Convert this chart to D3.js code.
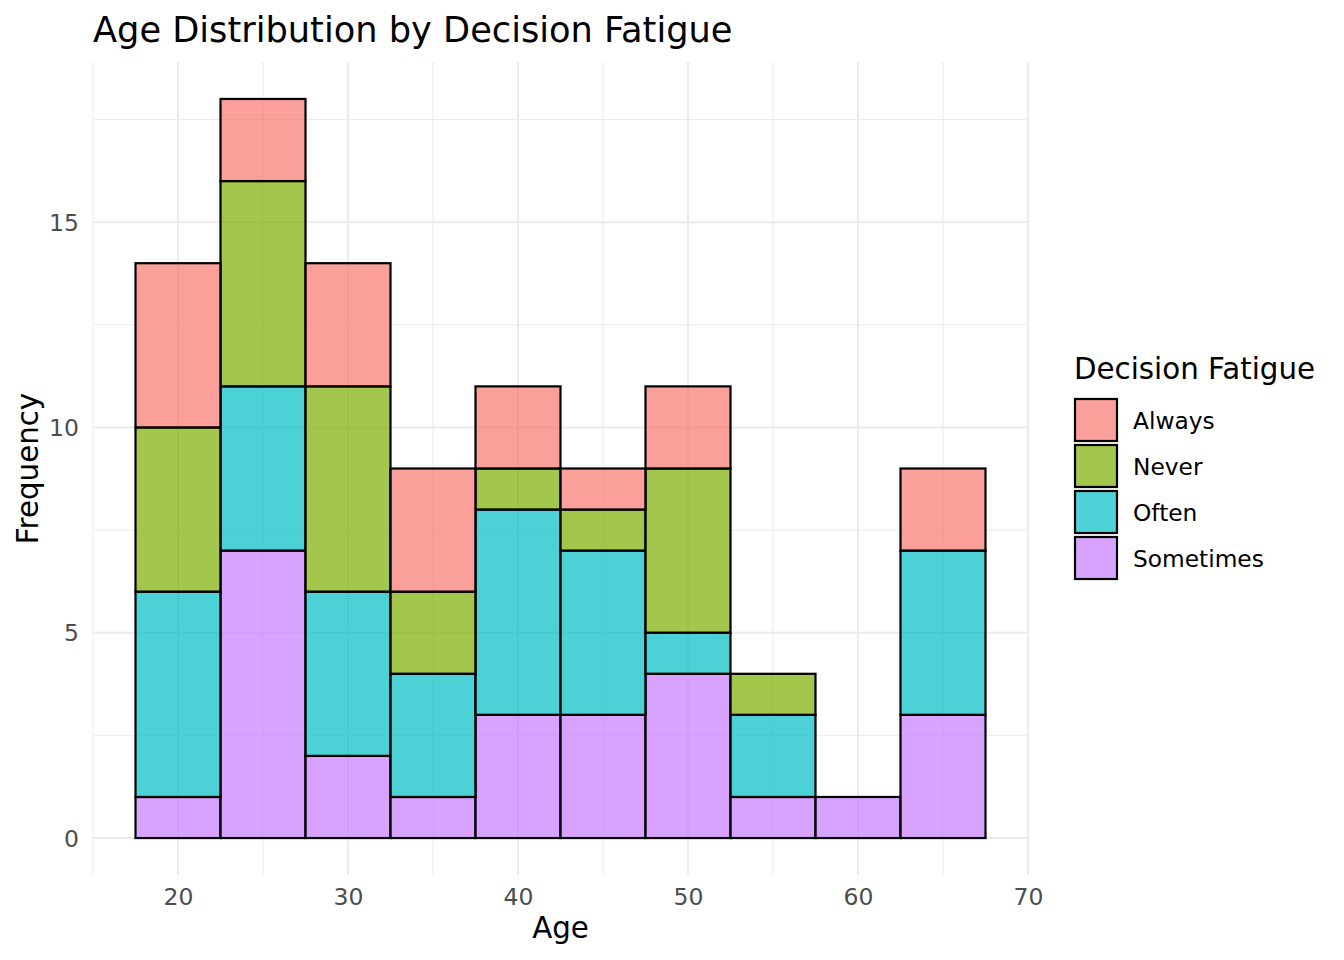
<!DOCTYPE html>
<html>
<head>
<meta charset="utf-8">
<script src="https://cdn.jsdelivr.net/npm/d3@7"></script>
<style>
  body { margin: 0; background: #fff; }
  svg { font-family: "DejaVu Sans", sans-serif; }
</style>
</head>
<body>
<svg id="chart" width="1344" height="960"></svg>
<script>
// bin centres (width 5) and counts per fatigue level
let ageBins = [20, 25, 30, 35, 40, 45, 50, 55, 60, 65]
let always = [4, 2, 3, 3, 2, 1, 2, 0, 0, 2]
let never = [4, 5, 5, 2, 1, 1, 4, 1, 0, 0]
let often = [5, 4, 4, 3, 5, 4, 1, 2, 0, 4]
let sometimes = [1, 7, 2, 1, 3, 3, 4, 1, 1, 3]

let levels = ['Always', 'Never', 'Often', 'Sometimes']
let colors = ['#F8766D', '#7CAE00', '#00BFC4', '#C77CFF']
let xTicks = [20, 30, 40, 50, 60, 70]
let yTicks = [0, 5, 10, 15]
let binWidth = 5

let rows = ageBins.map((a, i) => ({
    age: a,
    Always: always[i],
    Never: never[i],
    Often: often[i],
    Sometimes: sometimes[i]
}))

let svg = d3.select('#chart')

let panel = { left: 93, right: 1028, top: 62, bottom: 875 }

let x = d3.scaleLinear().domain([15, 70]).range([panel.left, panel.right])
let y = d3.scaleLinear().domain([-0.9, 18.9]).range([panel.bottom, panel.top])
let color = d3.scaleOrdinal().domain(levels).range(colors)

// grid: minor first, then major
let xMinor = [15, 25, 35, 45, 55, 65]
let yMinor = [2.5, 7.5, 12.5, 17.5]

let grid = svg.append('g')
grid.selectAll('.xminor').data(xMinor).enter().append('line')
    .attr('x1', d => x(d)).attr('x2', d => x(d))
    .attr('y1', panel.top).attr('y2', panel.bottom)
    .attr('stroke', '#EBEBEB').attr('stroke-width', 1)
grid.selectAll('.yminor').data(yMinor).enter().append('line')
    .attr('y1', d => y(d)).attr('y2', d => y(d))
    .attr('x1', panel.left).attr('x2', panel.right)
    .attr('stroke', '#EBEBEB').attr('stroke-width', 1)
grid.selectAll('.xmajor').data(xTicks).enter().append('line')
    .attr('x1', d => x(d)).attr('x2', d => x(d))
    .attr('y1', panel.top).attr('y2', panel.bottom)
    .attr('stroke', '#EBEBEB').attr('stroke-width', 2)
grid.selectAll('.ymajor').data(yTicks).enter().append('line')
    .attr('y1', d => y(d)).attr('y2', d => y(d))
    .attr('x1', panel.left).attr('x2', panel.right)
    .attr('stroke', '#EBEBEB').attr('stroke-width', 2)

// stacked bars, Sometimes at the bottom
let stackOrder = levels.slice().reverse()
let stacked = d3.stack().keys(stackOrder)(rows)

svg.append('g').selectAll('g')
    .data(stacked)
    .enter()
    .append('g')
    .selectAll('rect')
    .data(s => s.map(d => ({ key: s.key, d: d })))
    .enter()
    .append('rect')
    .attr('x', o => x(o.d.data.age - binWidth / 2))
    .attr('width', o => x(o.d.data.age + binWidth / 2) - x(o.d.data.age - binWidth / 2))
    .attr('y', o => y(o.d[1]))
    .attr('height', o => y(o.d[0]) - y(o.d[1]))
    .attr('fill', o => color(o.key))
    .attr('fill-opacity', 0.7)
    .attr('stroke', '#000')
    .attr('stroke-width', 2.2)

// axes (labels only, theme_minimal style)
let xAxis = svg.append('g')
    .attr('transform', 'translate(0,' + panel.bottom + ')')
    .call(d3.axisBottom(x).tickValues(xTicks).tickSize(0).tickPadding(0))
xAxis.select('.domain').remove()
xAxis.selectAll('text')
    .attr('y', 30)
    .attr('dy', 0)
    .attr('font-size', 23.5)
    .attr('fill', '#4D4D4D')
    .style('font-family', '"DejaVu Sans", sans-serif')

let yAxis = svg.append('g')
    .attr('transform', 'translate(79,0)')
    .call(d3.axisLeft(y).tickValues(yTicks).tickSize(0).tickPadding(0))
yAxis.select('.domain').remove()
yAxis.selectAll('text')
    .attr('x', 0)
    .attr('dy', '0.35em')
    .attr('font-size', 23.5)
    .attr('fill', '#4D4D4D')
    .style('font-family', '"DejaVu Sans", sans-serif')

// titles
svg.append('text')
    .attr('x', 93).attr('y', 42)
    .attr('font-size', 35.2)
    .attr('fill', '#000')
    .text('Age Distribution by Decision Fatigue')

svg.append('text')
    .attr('x', (panel.left + panel.right) / 2).attr('y', 938)
    .attr('text-anchor', 'middle')
    .attr('font-size', 29.3)
    .text('Age')

svg.append('text')
    .attr('transform', 'translate(38,' + (panel.top + panel.bottom) / 2 + ') rotate(-90)')
    .attr('text-anchor', 'middle')
    .attr('font-size', 29.3)
    .text('Frequency')

// legend
let legend = svg.append('g').attr('transform', 'translate(1074,0)')
legend.append('text')
    .attr('x', 0).attr('y', 379)
    .attr('font-size', 29.3)
    .text('Decision Fatigue')

let keys = legend.selectAll('.key').data(levels).enter().append('g')
    .attr('transform', (d, i) => 'translate(0,' + (399 + i * 46) + ')')
keys.append('rect')
    .attr('x', 1).attr('y', 0)
    .attr('width', 42).attr('height', 42)
    .attr('fill', d => color(d))
    .attr('fill-opacity', 0.7)
    .attr('stroke', '#000')
    .attr('stroke-width', 2.2)
keys.append('text')
    .attr('x', 59).attr('y', 22)
    .attr('dy', '0.35em')
    .attr('font-size', 23.3)
    .text(d => d)
</script>
</body>
</html>
